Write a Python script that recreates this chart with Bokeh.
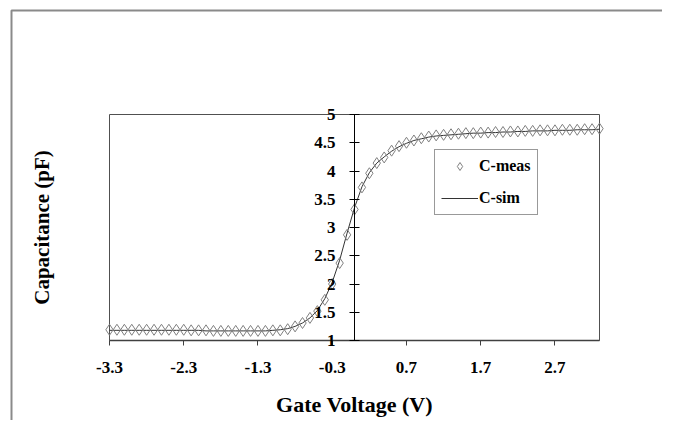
from bokeh.plotting import figure
from bokeh.models import (LinearAxis, FixedTicker, CustomJSTickFormatter, Range1d,
                          Legend, LegendItem)
from bokeh.embed import file_html
from bokeh.resources import INLINE

# ---- data ----
gate_voltage = [-3.3, -3.2, -3.1, -3.0, -2.9, -2.8, -2.7, -2.6, -2.5, -2.4,
                -2.3, -2.2, -2.1, -2.0, -1.9, -1.8, -1.7, -1.6, -1.5, -1.4,
                -1.3, -1.2, -1.1, -1.0, -0.9, -0.8, -0.7, -0.6, -0.5, -0.4,
                -0.3, -0.2, -0.1, 0.0, 0.1, 0.2, 0.3, 0.4, 0.5, 0.6,
                0.7, 0.8, 0.9, 1.0, 1.1, 1.2, 1.3, 1.4, 1.5, 1.6,
                1.7, 1.8, 1.9, 2.0, 2.1, 2.2, 2.3, 2.4, 2.5, 2.6,
                2.7, 2.8, 2.9, 3.0, 3.1, 3.2, 3.3]
c_meas = [1.19, 1.19, 1.19, 1.19, 1.19, 1.19, 1.19, 1.19, 1.19, 1.19,
          1.19, 1.18, 1.18, 1.18, 1.17, 1.17, 1.17, 1.17, 1.17, 1.17,
          1.17, 1.17, 1.18, 1.18, 1.20, 1.25, 1.31, 1.40, 1.52, 1.72,
          2.00, 2.37, 2.87, 3.32, 3.71, 3.96, 4.14, 4.24, 4.36, 4.44,
          4.50, 4.54, 4.58, 4.61, 4.63, 4.64, 4.65, 4.66, 4.67, 4.67,
          4.68, 4.68, 4.69, 4.69, 4.70, 4.70, 4.71, 4.71, 4.72, 4.72,
          4.72, 4.73, 4.73, 4.73, 4.74, 4.74, 4.75]
c_sim = [1.18, 1.18, 1.18, 1.18, 1.18, 1.18, 1.18, 1.18, 1.18, 1.18,
         1.18, 1.18, 1.18, 1.17, 1.17, 1.17, 1.17, 1.17, 1.17, 1.17,
         1.17, 1.17, 1.18, 1.19, 1.21, 1.25, 1.31, 1.40, 1.53, 1.74,
         2.03, 2.42, 2.90, 3.35, 3.72, 3.97, 4.14, 4.25, 4.35, 4.43,
         4.49, 4.54, 4.57, 4.60, 4.62, 4.63, 4.64, 4.65, 4.66, 4.67,
         4.67, 4.68, 4.68, 4.69, 4.69, 4.70, 4.70, 4.71, 4.71, 4.71,
         4.72, 4.72, 4.72, 4.73, 4.73, 4.73, 4.74]
x_ticks = [-3.3, -2.3, -1.3, -0.3, 0.7, 1.7, 2.7]
y_ticks = [1, 1.5, 2, 2.5, 3, 3.5, 4, 4.5, 5]
x_title = "Gate Voltage (V)"
y_title = "Capacitance (pF)"
series_names = ["C-meas", "C-sim"]

X_MIN, X_MAX = -3.3, 3.3
Y_MIN, Y_MAX = 1, 5

# ---- layout (pixels on the page) ----
W, H = 662, 420
PX_LEFT, PX_RIGHT = 109, 599      # x = X_MIN .. X_MAX
PX_TOP, PX_BOTTOM = 114, 340      # y = Y_MAX .. Y_MIN
sx = (PX_RIGHT - PX_LEFT) / (X_MAX - X_MIN)
sy = (PX_BOTTOM - PX_TOP) / (Y_MAX - Y_MIN)
x0 = X_MIN - PX_LEFT / sx
x1 = X_MIN + (W - PX_LEFT) / sx
y1 = Y_MAX + PX_TOP / sy
y0 = Y_MIN - (H - PX_BOTTOM) / sy

FONT = "Liberation Serif"

p = figure(width=W, height=H, output_backend="svg", toolbar_location=None,
           x_range=Range1d(x0, x1), y_range=Range1d(y0, y1),
           x_axis_location=None, y_axis_location=None,
           min_border=0, min_border_left=0, min_border_right=0,
           min_border_top=0, min_border_bottom=0)
p.grid.visible = False
p.outline_line_color = None
p.background_fill_color = "white"
p.border_fill_color = "white"

fmt = CustomJSTickFormatter(code="return String(Math.round(tick*10)/10)")

# outer chart-area border (top and left edges visible)
bx = X_MIN + (11 - PX_LEFT) / sx
by = Y_MAX + (PX_TOP - 10) / sy
p.line(x=[bx, bx, x1], y=[y0, by, by], line_color="#8a8a8a", line_width=2)

# bottom axis at y = 1
xa = LinearAxis(ticker=FixedTicker(ticks=x_ticks), formatter=fmt, fixed_location=Y_MIN,
                bounds=(X_MIN, X_MAX), axis_line_color="#404040", axis_line_width=1.5,
                major_tick_line_color="#404040", major_tick_in=0, major_tick_out=5,
                minor_tick_line_color=None,
                major_label_text_font=FONT, major_label_text_font_style="bold",
                major_label_text_font_size="17px", major_label_text_color="black",
                major_label_standoff=16,
                axis_label=x_title, axis_label_text_font=FONT,
                axis_label_text_font_style="bold", axis_label_text_font_size="22px",
                axis_label_text_color="black", axis_label_standoff=16)
p.add_layout(xa, "below")

# left title-only axis at the plot-area edge
ta = LinearAxis(ticker=FixedTicker(ticks=[]), fixed_location=X_MIN, bounds=(Y_MIN, Y_MAX),
                axis_line_color=None,
                major_tick_line_color=None, minor_tick_line_color=None,
                major_label_text_font_size="0px", major_label_standoff=0,
                major_tick_out=0, major_tick_in=0,
                axis_label=y_title, axis_label_text_font=FONT,
                axis_label_text_font_style="bold", axis_label_text_font_size="21px",
                axis_label_text_color="black", axis_label_standoff=56)
p.add_layout(ta, "left")

# y axis crossing at x = 0
ya = LinearAxis(ticker=FixedTicker(ticks=y_ticks), formatter=fmt, fixed_location=0,
                bounds=(Y_MIN, Y_MAX), axis_line_color="black",
                major_tick_line_color="black", major_tick_in=5, major_tick_out=5,
                minor_tick_line_color=None,
                major_label_text_font=FONT, major_label_text_font_style="bold",
                major_label_text_font_size="17px", major_label_text_color="black",
                major_label_standoff=14)
p.add_layout(ya, "left")

# plot-area border
p.quad(left=[X_MIN], right=[X_MAX], bottom=[Y_MIN], top=[Y_MAX],
       fill_color=None, line_color="#505050", line_width=1)

r_sim = p.line(gate_voltage, c_sim, line_color="#333333", line_width=1)
r_meas = p.scatter(gate_voltage, c_meas, marker="diamond", size=11,
                   line_color="#808080", line_width=1, fill_color=None)

legend = Legend(items=[LegendItem(label=series_names[0], renderers=[r_meas]),
                       LegendItem(label=series_names[1], renderers=[r_sim])],
                location=(434, H - 215), margin=0, padding=6, spacing=12,
                glyph_width=37, glyph_height=20, label_height=20, label_standoff=1,
                label_text_font=FONT, label_text_font_style="bold",
                label_text_font_size="16px", label_text_color="black",
                border_line_color="#333333", border_line_width=1,
                background_fill_color="white", background_fill_alpha=1)
p.add_layout(legend, "center")

open("out.html", "w").write(file_html(p, INLINE))
